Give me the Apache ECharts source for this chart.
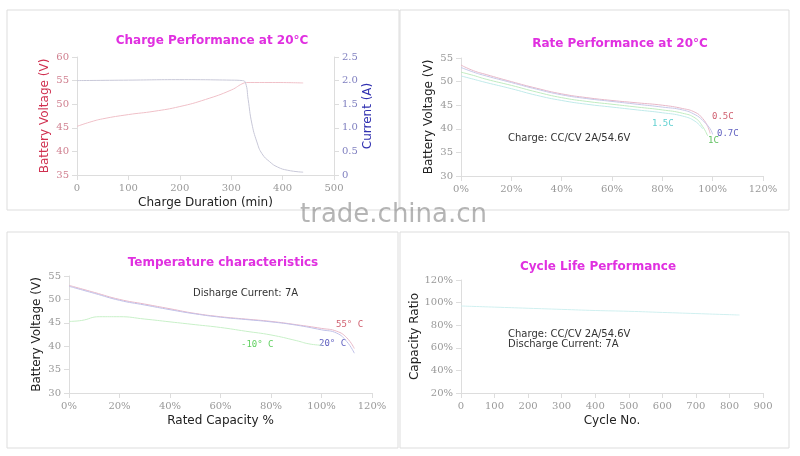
<!DOCTYPE html>
<html><head><meta charset="utf-8">
<script src="https://cdn.jsdelivr.net/npm/echarts@6/dist/echarts.min.js"></script>
<style>html,body{margin:0;padding:0;background:#fff}#c{width:800px;height:456px}</style>
</head><body><div id="c"></div>
<script>
// Charge performance
const chargeVoltage = [[0,45.3],[25,46.2],[50,46.9],[100,47.8],[150,48.5],[200,49.5],[250,51],[300,53],[325,54.5],[330,54.6],[380,54.6],[440,54.5]];
const chargeCurrent = [[0,2.0],[100,2.01],[200,2.02],[300,2.01],[322,2.0],[328,1.95],[333,1.6],[340,1.1],[350,0.7],[360,0.45],[375,0.28],[390,0.17],[410,0.1],[440,0.06]];
// Rate performance (% capacity, V)
const rate05 = [[0,53.5],[5,52.3],[10,51.5],[20,50],[30,48.6],[40,47.4],[50,46.6],[60,46],[70,45.5],[80,45],[88,44.3],[93,43.5],[96,42.2],[98,40.5],[99,39]];
const rate07 = [[0,53],[5,52],[10,51.2],[20,49.8],[30,48.4],[40,47.2],[50,46.4],[60,45.8],[70,45.2],[80,44.6],[88,44],[93,43],[96,41.8],[99,40],[100,38.8]];
const rate1 = [[0,52],[5,51.3],[10,50.5],[20,49.2],[30,47.8],[40,46.6],[50,45.8],[60,45.2],[70,44.6],[80,44],[88,43.3],[93,42.3],[96,40.5],[98,38.5]];
const rate15 = [[0,51.2],[5,50.5],[10,49.8],[20,48.5],[30,47.1],[40,46],[50,45.2],[60,44.6],[70,44],[80,43.4],[88,42.7],[93,41.6],[96,40]];
// Temperature characteristics
const temp55 = [[0,53],[10,51.5],[20,50],[30,49],[40,48],[50,47],[60,46.3],[70,45.8],[80,45.3],[90,44.6],[100,43.8],[106,43.2],[110,41.8],[113,39.5]];
const temp20 = [[0,52.8],[10,51.3],[20,49.8],[30,48.8],[40,47.8],[50,46.9],[60,46.2],[70,45.7],[80,45.2],[90,44.5],[100,43.5],[106,42.8],[110,41],[113,38.5]];
const tempM10 = [[0,45.3],[5,45.5],[12,46.3],[20,46.3],[30,45.8],[40,45.2],[50,44.6],[60,44],[70,43.2],[80,42.4],[90,41.2],[95,40.5],[100,40.2]];
// Cycle life
const cycleLife = [[0,97],[100,96],[200,95],[300,94],[400,93],[500,92.3],[600,91.3],[700,90.3],[800,89.3],[830,89]];

const serif = {fontFamily:'DejaVu Serif',fontSize:10,color:'#999'};
const axisLine = {show:true,lineStyle:{color:'#ddd'}};
const sans = 'DejaVu Sans';
function xa(gi,min,max,interval,fmt,name,ng){return {gridIndex:gi,type:'value',min,max,interval,axisLine,axisTick:{show:true,lineStyle:{color:'#ddd'}},splitLine:{show:false},axisLabel:Object.assign({formatter:fmt},serif),name,nameLocation:'middle',nameGap:ng||22,nameTextStyle:{fontFamily:sans,fontSize:12,color:'#222'}};}
function ya(gi,min,max,interval,fmt,name,color,pos){return {gridIndex:gi,type:'value',min,max,interval,position:pos||'left',axisLine,axisTick:{show:true,lineStyle:{color:'#ddd'}},splitLine:{show:false},axisLabel:Object.assign({formatter:fmt},serif,color?{color:color==='#d03050'?'#d08090':'#8080c0'}:{}),name,nameLocation:'middle',nameGap:26,nameTextStyle:{fontFamily:sans,fontSize:12,color:color||'#222'}};}
const pct = v=>v+'%';
function line(x,y,data,color){return {type:'line',xAxisIndex:x,yAxisIndex:y,data,showSymbol:false,smooth:true,lineStyle:{width:1,color},silent:true};}
const title=(t,l,tp)=>({text:t,left:l,top:tp,textAlign:'center',textStyle:{fontFamily:sans,fontSize:12,fontWeight:'bold',color:'#e030e0'}});
const lbl=(t,x,y,c,f)=>({type:'text',left:x,top:y,style:{text:t,fill:c,font:f||'9px "DejaVu Sans Mono"'}});
const chart = echarts.init(document.getElementById('c'));
chart.setOption({
 animation:false,
 title:[title('Charge Performance at 20°C',207,30),title('Rate Performance at 20°C',615,33),title('Temperature characteristics',218,252),title('Cycle Life Performance',593,256)],
 grid:[{left:77,top:57,width:257,height:118},{left:461,top:58,width:302,height:118},{left:69,top:276,width:303,height:117},{left:461,top:280,width:302,height:113}],
 xAxis:[xa(0,0,500,100,null,'Charge Duration (min)'),xa(1,0,120,20,pct,''),xa(2,0,120,20,pct,'Rated Capacity %',22),xa(3,0,900,100,null,'Cycle No.',22)],
 yAxis:[ya(0,35,60,5,null,'Battery Voltage (V)','#d03050'),ya(0,0,2.5,0.5,v=>v===0?'0':v.toFixed(1),'Current (A)','#3030b0','right'),ya(1,30,55,5,null,'Battery Voltage (V)'),ya(2,30,55,5,null,'Battery Voltage (V)'),ya(3,20,120,20,pct,'Capacity Ratio')],
 series:[line(0,0,chargeVoltage,'#f0c0c8'),line(0,1,chargeCurrent,'#c8c8d8'),
  line(1,2,rate05,'#e8b8c8'),line(1,2,rate07,'#c8c8e8'),line(1,2,rate1,'#c0ecc0'),line(1,2,rate15,'#c0eaea'),
  line(2,3,temp55,'#e8b8c8'),line(2,3,temp20,'#c0c0e8'),line(2,3,tempM10,'#c8f0c8'),
  line(3,4,cycleLife,'#d0f0f0')],
 graphic:[
  {type:'rect',shape:{x:7,y:10,width:392,height:200},style:{fill:'none',stroke:'#ddd'}},
  {type:'rect',shape:{x:400,y:10,width:389,height:200},style:{fill:'none',stroke:'#ddd'}},
  {type:'rect',shape:{x:7,y:232,width:391,height:216},style:{fill:'none',stroke:'#ddd'}},
  {type:'rect',shape:{x:400,y:232,width:389,height:216},style:{fill:'none',stroke:'#ddd'}},
  lbl('0.5C',712,112,'#d06070'),lbl('0.7C',717,129,'#6060c0'),lbl('1C',708,136,'#60c060'),lbl('1.5C',652,119,'#60d0d0'),
  lbl('Charge: CC/CV 2A/54.6V',508,133,'#333','10px "DejaVu Sans"'),
  lbl('Disharge Current: 7A',193,288,'#333','10px "DejaVu Sans"'),
  lbl('55° C',336,320,'#d06070'),lbl('20° C',319,339,'#6060c0'),lbl('-10° C',241,340,'#60d060'),
  lbl('Charge: CC/CV 2A/54.6V',508,329,'#333','10px "DejaVu Sans"'),lbl('Discharge Current: 7A',508,339,'#333','10px "DejaVu Sans"'),
  {type:'text',left:300,top:202,z:100,style:{text:'trade.china.cn',fill:'rgba(120,120,120,0.55)',font:'26px "DejaVu Sans"'}}
 ]
});
</script></body></html>
